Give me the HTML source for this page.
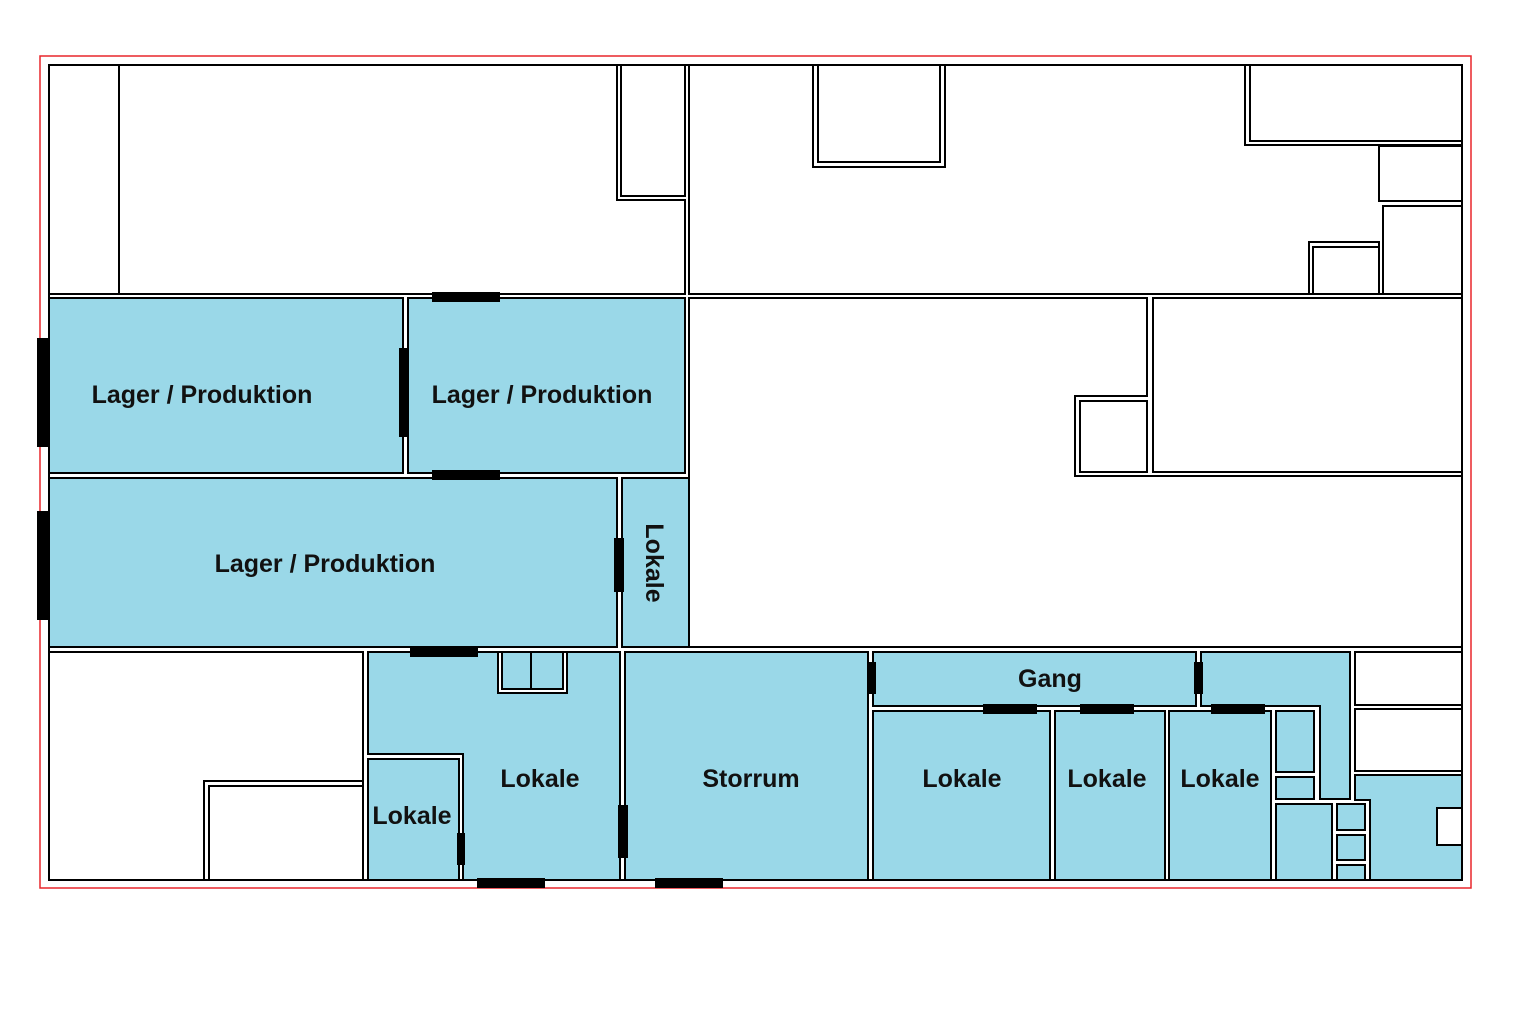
<!DOCTYPE html>
<html><head><meta charset="utf-8"><style>
html,body{margin:0;padding:0;background:#fff}
svg{display:block}
text{font-family:"Liberation Sans",sans-serif;font-weight:bold;font-size:25px;fill:#111}
</style></head><body>
<svg width="1536" height="1024" viewBox="0 0 1536 1024" xmlns="http://www.w3.org/2000/svg">
<rect x="40" y="56" width="1431" height="832" fill="none" stroke="#e8262b" stroke-width="1.5"/>
<rect x="49" y="65" width="1413" height="815" fill="#fff" stroke="#000" stroke-width="2"/>
<g stroke="#000" stroke-width="2" fill="#fff">
<rect x="49" y="65" width="70" height="229"/>
<polygon points="119,65 617,65 617,200 685,200 685,294 119,294"/>
<rect x="621" y="65" width="64" height="131"/>
<rect x="689" y="65" width="773" height="229"/>
<rect x="813" y="65" width="132" height="102"/>
<rect x="818" y="65" width="122" height="97"/>
<polygon points="1245,65 1462,65 1462,145 1245,145"/>
<rect x="1250" y="65" width="212" height="76"/>
<rect x="1379" y="146" width="83" height="55"/>
<rect x="1383" y="206" width="79" height="88"/>
<rect x="1309" y="242" width="70" height="52"/>
<rect x="1313" y="247" width="66" height="47"/>
<polygon points="689,298 1147,298 1147,396 1075,396 1075,476 1462,476 1462,647 689,647"/>
<rect x="1080" y="401" width="67" height="71"/>
<rect x="1153" y="298" width="309" height="174"/>
<g fill="#9ad8e8">
<rect x="49" y="298" width="354" height="175"/>
<rect x="408" y="298" width="277" height="175"/>
<rect x="49" y="478" width="568" height="169"/>
<rect x="622" y="478" width="67" height="169"/>
<polygon points="368,652 620,652 620,880 463,880 463,754 368,754"/>
<rect x="368" y="759" width="91" height="121"/>
<rect x="625" y="652" width="243" height="228"/>
<rect x="873" y="652" width="323" height="54"/>
<rect x="873" y="711" width="177" height="169"/>
<rect x="1055" y="711" width="110" height="169"/>
<rect x="1169" y="711" width="102" height="169"/>
<polygon points="1201,652 1350,652 1350,799 1320,799 1320,706 1201,706"/>
<rect x="1276" y="711" width="38" height="61"/>
<rect x="1276" y="777" width="38" height="22"/>
<rect x="1276" y="804" width="56" height="76"/>
<rect x="1337" y="804" width="28" height="26"/>
<rect x="1337" y="835" width="28" height="25"/>
<rect x="1337" y="865" width="28" height="15"/>
<polygon points="1355,775 1462,775 1462,880 1370,880 1370,800 1355,800"/>
</g>
<rect x="498" y="652" width="69" height="41"/>
<rect x="502" y="652" width="61" height="37" fill="#9ad8e8"/>
<line x1="531" y1="652" x2="531" y2="689"/>
<rect x="1437" y="808" width="25" height="37"/>
<rect x="1355" y="652" width="107" height="53"/>
<rect x="1355" y="709" width="107" height="62"/>
<rect x="49" y="652" width="314" height="228"/>
<rect x="204" y="781" width="159" height="99"/>
<rect x="209" y="786" width="154" height="94"/>
</g>
<g fill="#000">
<rect x="432" y="292" width="68" height="10"/>
<rect x="432" y="470" width="68" height="10"/>
<rect x="399" y="348" width="10" height="89"/>
<rect x="37" y="338" width="12" height="109"/>
<rect x="37" y="511" width="12" height="109"/>
<rect x="614" y="538" width="10" height="54"/>
<rect x="410" y="647" width="68" height="10"/>
<rect x="477" y="878" width="68" height="10"/>
<rect x="655" y="878" width="68" height="10"/>
<rect x="457" y="833" width="8" height="32"/>
<rect x="618" y="805" width="10" height="53"/>
<rect x="867" y="662" width="9" height="32"/>
<rect x="1194" y="662" width="9" height="32"/>
<rect x="983" y="704" width="54" height="10"/>
<rect x="1080" y="704" width="54" height="10"/>
<rect x="1211" y="704" width="54" height="10"/>
</g>
<text x="202" y="403" text-anchor="middle">Lager / Produktion</text>
<text x="542" y="403" text-anchor="middle">Lager / Produktion</text>
<text x="325" y="572" text-anchor="middle">Lager / Produktion</text>
<text transform="translate(646,563) rotate(90)" text-anchor="middle">Lokale</text>
<text x="1050" y="687" text-anchor="middle">Gang</text>
<text x="540" y="787" text-anchor="middle">Lokale</text>
<text x="412" y="824" text-anchor="middle">Lokale</text>
<text x="751" y="787" text-anchor="middle">Storrum</text>
<text x="962" y="787" text-anchor="middle">Lokale</text>
<text x="1107" y="787" text-anchor="middle">Lokale</text>
<text x="1220" y="787" text-anchor="middle">Lokale</text>
</svg>
</body></html>
